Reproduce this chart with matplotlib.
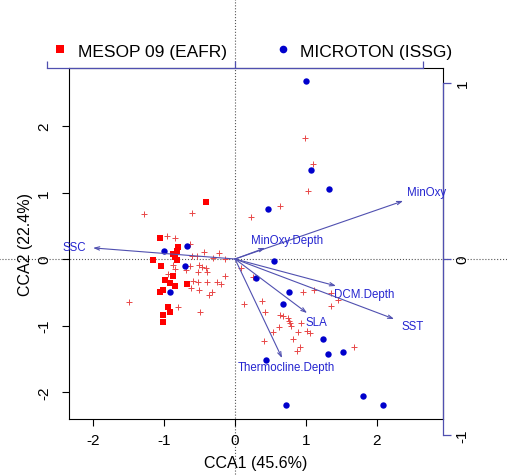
import matplotlib
matplotlib.use("Agg")
import matplotlib.pyplot as plt
from matplotlib.lines import Line2D

plt.rcParams['font.family'] = ['Liberation Sans', 'DejaVu Sans']

# site scores (CCA1, CCA2)
mesop_x = [-0.41, -1.06, -0.80, -0.82, -0.87, -0.85, -0.82, -1.15, -1.04, -0.88,
           -0.99, -0.91, -0.84, -0.68, -1.02, -1.06, -0.95, -0.92, -1.01, -1.01]
mesop_y = [0.86, 0.31, 0.18, 0.12, 0.08, 0.03, -0.02, -0.01, -0.10, -0.25,
           -0.31, -0.36, -0.41, -0.37, -0.46, -0.50, -0.72, -0.79, -0.84, -0.94]

microton_x = [-1.00, -0.68, -0.71, -0.91, 1.00, 1.07, 1.33, 0.47, 0.55, 0.29,
              0.76, 0.68, 1.24, 1.31, 1.52, 0.44, 0.72, 1.80, 2.08]
microton_y = [0.12, 0.20, -0.11, -0.49, 2.67, 1.34, 1.06, 0.75, -0.03, -0.29,
              -0.50, -0.68, -1.20, -1.43, -1.40, -1.52, -2.20, -2.06, -2.20]

# species scores (small crosses)
spec_x = [-1.28, -0.60, -0.96, -0.85, -0.63, -0.43, -0.23, -0.61, -0.54, -0.31,
          -0.14, -0.87, -0.64, -0.51, -0.47, -0.41, -0.84, -0.69, -0.52, -0.95,
          -0.40, -0.14, -0.59, -0.52, -0.40, -0.26, -0.20, -0.62, -0.50, -0.33,
          -0.37, -0.80, -0.49, -1.49,
          0.98, 1.10, 1.03, 0.63, 0.22, 0.09, 0.25, 0.13, 0.38, 0.42,
          0.96, 1.11, 1.35, 1.45, 1.35, 0.63, 0.67, 0.75, 0.76, 0.77,
          0.79, 0.93, 0.62, 0.53, 0.89, 1.02, 1.05, 0.82, 0.41, 0.91,
          0.88, 1.68]
spec_y = [0.67, 0.69, 0.35, 0.31, 0.22, 0.10, 0.09, 0.04, 0.04, 0.01,
          0.00, -0.09, -0.10, -0.09, -0.12, -0.14, -0.15, -0.17, -0.19, -0.22,
          -0.20, -0.26, -0.33, -0.34, -0.34, -0.35, -0.37, -0.43, -0.46, -0.49,
          -0.54, -0.72, -0.79, -0.64,
          1.82, 1.43, 1.03, 0.80, 0.63, -0.14, -0.27, -0.68, -0.63, -0.79,
          -0.49, -0.46, -0.51, -0.61, -0.71, -0.84, -0.85, -0.88, -0.93, -0.96,
          -1.00, -0.96, -1.02, -1.10, -1.10, -1.08, -1.11, -1.21, -1.24, -1.33,
          -1.39, -1.33]

# environmental vectors (biplot scale)
env_names = ['MinOxy', 'MinOxy.Depth', 'SSC', 'DCM.Depth', 'SST', 'SLA',
             'Thermocline.Depth']
env_x = [0.894, 0.160, -0.755, 0.537, 0.846, 0.383, 0.250]
env_y = [0.330, 0.063, 0.063, -0.153, -0.341, -0.307, -0.563]
label_x = [1.021, 0.279, -0.854, 0.689, 0.944, 0.434, 0.271]
label_y = [0.381, 0.108, 0.068, -0.199, -0.381, -0.358, -0.614]

ticks = [-2, -1, 0, 1, 2]
bi_ticks = [-1, 0, 1]

fig = plt.figure(figsize=(5.07, 4.77), dpi=100)
pos = [0.1361, 0.1195, 0.7377, 0.7358]
ax = fig.add_axes(pos)
ax2 = fig.add_axes(pos, frameon=False)
ax2.set_xlim(-0.883, 1.106)
ax2.set_ylim(-0.909, 1.085)
ax2.axis('off')

ax.set_xlim(-2.338, 2.930)
ax.set_ylim(-2.406, 2.872)

# dotted zero lines across the whole figure
ax.axvline(0, ymin=-0.3, ymax=1.3, color='#555555', ls=':', lw=0.8, clip_on=False, zorder=1)
ax.axhline(0, xmin=-0.3, xmax=1.3, color='#555555', ls=':', lw=0.8, clip_on=False, zorder=1)

ax.plot(spec_x, spec_y, '+', color='#e84848', ms=3.8, mew=0.7, zorder=2)
ax.plot(mesop_x, mesop_y, 's', color='red', ms=4.2, mew=0, zorder=3)
ax.plot(microton_x, microton_y, 'o', color='#0000cc', ms=4.6, mew=0, zorder=3)

arrow_col = '#5050b0'
text_col = '#2525d0'
for n, x, y, lx, ly in zip(env_names, env_x, env_y, label_x, label_y):
    ax2.annotate('', xy=(x, y), xytext=(0, 0),
                 arrowprops=dict(arrowstyle='->,head_length=0.35,head_width=0.12',
                                 color=arrow_col, lw=0.8, shrinkA=0, shrinkB=0))
    ax2.text(lx, ly, n, color=text_col, fontsize=8.3, ha='center', va='center')

# secondary biplot axes (top and right)
ytop = ax2.get_ylim()[1]
xright = ax2.get_xlim()[1]
ax2.plot([-1, 1], [ytop, ytop], color=arrow_col, lw=0.9, clip_on=False)
ax2.plot(bi_ticks, [ytop] * 3, ls='none', marker=2, ms=5, mew=0.9,
         color=arrow_col, clip_on=False)
ax2.plot([xright, xright], [-1, 1], color=arrow_col, lw=0.9, clip_on=False)
ax2.plot([xright] * 3, bi_ticks, ls='none', marker=1, ms=6, mew=0.9,
         color=arrow_col, clip_on=False)
for t in bi_ticks:
    ax2.annotate(str(t), xy=(xright, t), xytext=(14, 0), textcoords='offset points',
                 rotation=90, ha='center', va='center', fontsize=11, annotation_clip=False)

ax.set_xticks(ticks)
ax.set_yticks(ticks)
ax.set_xticklabels([str(t) for t in ticks])
ax.set_yticklabels([str(t) for t in ticks], rotation=90, va='center')
ax.tick_params(labelsize=11, length=5, width=0.8, pad=5)
ax.tick_params(axis='y', pad=8)
for s in ax.spines.values():
    s.set_linewidth(0.8)
ax.set_xlabel('CCA1 (45.6%)', fontsize=11.5, labelpad=6)
ax.set_ylabel('CCA2 (22.4%)', fontsize=11.5, labelpad=3)

handles = [Line2D([], [], ls='none', marker='s', color='red', ms=6, mew=0),
           Line2D([], [], ls='none', marker='o', color='#0000cc', ms=5.5, mew=0)]
fig.legend(handles, ['MESOP 09 (EAFR)', 'MICROTON (ISSG)'], ncol=2, frameon=False,
           loc='center', bbox_to_anchor=(0.497, 0.891), fontsize=12.5,
           handlelength=1.0, handletextpad=0.5, columnspacing=2.75)

fig.savefig('out.png', dpi=100)
